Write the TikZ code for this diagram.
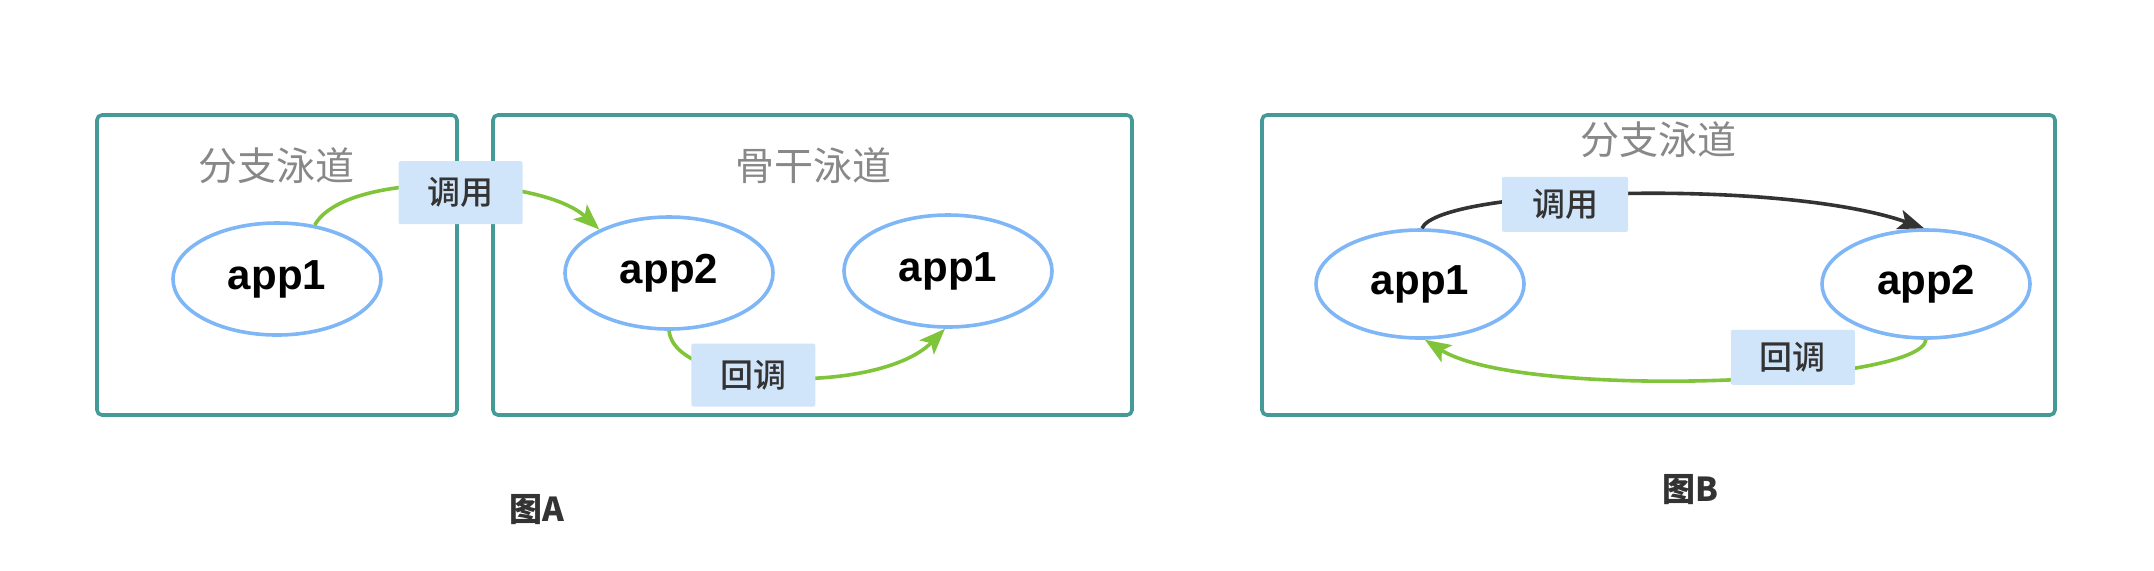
\documentclass[tikz,border=0pt]{standalone}
\usepackage{fontspec}
\setmainfont{Liberation Sans}
\newfontfamily\cjk{Noto Sans CJK SC}
\newfontfamily\cjkmed{Noto Sans CJK SC Medium}
\usetikzlibrary{positioning, shapes.geometric, calc, arrows.meta}
\definecolor{lanecol}{RGB}{67,154,151}
\definecolor{appcol}{RGB}{126,182,246}
\definecolor{callgreen}{RGB}{128,196,58}
\definecolor{lblfill}{RGB}{208,228,250}
\definecolor{titlegray}{RGB}{136,136,136}
\definecolor{darkline}{RGB}{51,51,51}
\begin{document}
\begin{tikzpicture}[x=0.5pt, y=-0.5pt]
		% 样式
		\tikzstyle{lane} = [rectangle, draw=lanecol, line width=1.8pt, rounded corners=2.5pt, minimum height=150pt, inner sep=0pt]
		\tikzstyle{lanetitle} = [font=\cjk\fontsize{19.5}{19.5}\selectfont, text=titlegray]
		\tikzstyle{app} = [ellipse, draw=appcol, line width=1.8pt, minimum width=104pt, minimum height=56pt, inner sep=0pt, font=\bfseries\fontsize{21}{21}\selectfont]
		\tikzstyle{lbl} = [rectangle, fill=lblfill, rounded corners=1pt, text=darkline, minimum width=62pt, minimum height=31.5pt, inner sep=0pt, font=\cjkmed\fontsize{16.5}{16.5}\selectfont]
		\tikzstyle{caption} = [text=darkline, font=\cjk\bfseries\fontsize{16.5}{16.5}\selectfont]
		\tikzstyle{arrow} = [line width=1.8pt, ->, >={Stealth[length=13pt, width=10pt, inset=3pt]}]
		\useasboundingbox (0,0) rectangle (2154,570);

		% 图A
		\node [lane, minimum width=180pt] (laneA1) at (277,265) {};
		\node [lane, minimum width=319.5pt] (laneA2) at (812.5,265) {};
		\node [lanetitle] (titleA1) at (276,166) {分支泳道};
		\node [lanetitle] (titleA2) at (813,166) {骨干泳道};
		\node [app] (app1A) at (277,279) {app1};
		\node [app] (app2A) at (669,273) {app2};
		\node [app] (app1Ar) at (948,271) {app1};
		\node [caption] (capA) at (537,510) {图A};

		% 图B
		\node [lane, minimum width=396.5pt] (laneB) at (1658.5,265) {};
		\node [lanetitle] (titleB) at (1658,140) {分支泳道};
		\node [app, minimum height=54pt] (app1B) at (1420,284) {app1};
		\node [app, minimum height=54pt] (app2B) at (1926,284) {app2};
		\node [caption] (capB) at (1690,490) {图B};

		% 连线
		\draw [arrow, callgreen] (app1A.55) .. controls (345,170) and (540,175) .. node[lbl, pos=0.54, yshift=-3pt] {调用} (app2A.148);
		\draw [arrow, callgreen] (app2A.south) .. controls (675,390) and (880,395) .. node[lbl, pos=0.41] {回调} (app1Ar.-93);
		\draw [arrow, darkline] (app1B.88) .. controls (1440,188) and (1780,178) .. node[lbl, minimum width=63pt, minimum height=27.5pt, pos=0.4, yshift=-4pt] {调用} (app2B.92);
		\draw [arrow, callgreen] (app2B.south) .. controls (1920,385) and (1520,400) .. node[lbl, minimum height=27.5pt, pos=0.37, yshift=9pt] {回调} (app1B.-85);
\end{tikzpicture}
\end{document}
